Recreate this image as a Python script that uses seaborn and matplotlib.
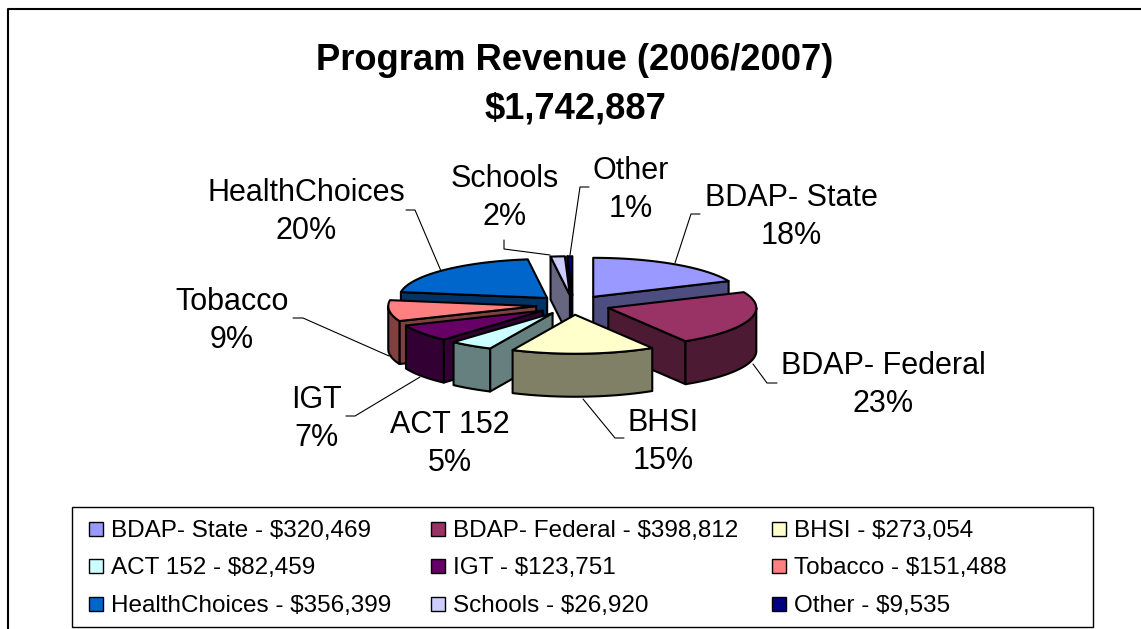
import numpy as np
import matplotlib
matplotlib.use('Agg')
import matplotlib.pyplot as plt
from matplotlib.patches import Rectangle
import seaborn as sns

# data
names = ['BDAP- State', 'BDAP- Federal', 'BHSI', 'ACT 152', 'IGT', 'Tobacco',
         'HealthChoices', 'Schools', 'Other']
amounts = [320469, 398812, 273054, 82459, 123751, 151488, 356399, 26920, 9535]
percent_labels = ['18%', '23%', '15%', '5%', '7%', '9%', '20%', '2%', '1%']
hex_colors = ['#9999FF', '#993366', '#FFFFCC', '#CCFFFF', '#660066', '#FF8080',
              '#0066CC', '#CCCCFF', '#000080']
title_lines = ['Program Revenue (2006/2007)', '$1,742,887']

sns.set_theme(style='white')
plt.rcParams['font.family'] = ['Liberation Sans', 'DejaVu Sans']
palette = sns.color_palette(hex_colors)
side_colors = [tuple(np.array(c) * 0.5) for c in palette]

fig = plt.figure(figsize=(11.41, 6.29), dpi=100)
ax = fig.add_axes([0, 0, 1, 1])
ax.set_xlim(0, 1141)
ax.set_ylim(629, 0)
ax.axis('off')

# pie geometry, in pixels
cx, cy = 573, 305
rx, ry = 148, 39
explode = 0.25
depth = 43
edge = dict(edgecolor='black', linewidth=1.5, joinstyle='round')

frac = np.array(amounts) / sum(amounts)
stops = np.concatenate([[0], np.cumsum(frac)]) * 360
mids = (stops[:-1] + stops[1:]) / 2


def rim(deg):
    # clockwise from 12 o'clock
    t = np.radians(deg)
    return np.sin(t) * rx, -np.cos(t) * ry


def apex(i):
    dx, dy = rim(mids[i])
    return cx + explode * dx, cy + explode * dy


def radial_face(i, deg):
    # cut face, only when it looks to the viewer
    ax0, ay0 = apex(i)
    dx, dy = rim(deg)
    mx, my = rim(mids[i])
    if abs(dx) < 1e-6 or my >= dy / dx * mx:
        return
    xs = [ax0, ax0 + dx, ax0 + dx, ax0]
    ys = [ay0, ay0 + dy, ay0 + dy + depth, ay0 + depth]
    ax.fill(xs, ys, facecolor=side_colors[i], **edge)


# back slices first
for i in np.argsort(-np.cos(np.radians(mids)), kind='stable'):
    a, b = stops[i], stops[i + 1]
    ax0, ay0 = apex(i)
    radial_face(i, a)
    radial_face(i, b)

    lo, hi = max(a, 90), min(b, 270)
    if lo < hi:
        dx, dy = rim(np.linspace(lo, hi, 60))
        xs = np.concatenate([ax0 + dx, (ax0 + dx)[::-1]])
        ys = np.concatenate([ay0 + dy, (ay0 + dy + depth)[::-1]])
        ax.fill(xs, ys, facecolor=side_colors[i], **edge)

    dx, dy = rim(np.linspace(a, b, 60))
    ax.fill(np.r_[ax0, ax0 + dx], np.r_[ay0, ay0 + dy], facecolor=palette[i], **edge)

# leader lines
leaders = [
    ([675, 691, 700], [263, 214, 214]),
    ([753, 767, 777], [364, 383, 383]),
    ([583, 615, 624], [399, 438, 438]),
    ([420, 355, 346], [377, 416, 416]),
    ([389, 303, 293], [356, 318, 318]),
    ([441, 415, 406], [271, 210, 210]),
    ([550, 504, 504], [255, 249, 240]),
    ([570, 580, 589], [255, 187, 187]),
]
for lx, ly in leaders:
    ax.plot(lx, ly, color='black', lw=0.8)

# slice labels
label_x = [791, 883, 663, 450, 317, 232, 306, 505, 631]
label_y = [217, 385, 442, 444, 419, 321, 212, 198, 190]
for i, name in enumerate(names):
    ax.text(label_x[i], label_y[i], name + '\n' + percent_labels[i], ha='center',
            va='center', fontsize=22, color='black', linespacing=1.37)

# title
ax.text(575, 60, title_lines[0], ha='center', va='center', fontsize=26.2,
        fontweight='bold', color='black')
ax.text(575, 109, title_lines[1], ha='center', va='center', fontsize=26.2,
        fontweight='bold', color='black')

# outer frame, runs off the right and bottom
ax.plot([7.5, 7.5, 1141], [629, 8.5, 8.5], color='black', lw=1.5)

# legend box
ax.add_patch(Rectangle((72, 507), 1021, 120, facecolor='white', edgecolor='black', lw=1))
col_x = [89, 431, 772]
row_y = [529, 566, 604]
for i, name in enumerate(names):
    x0 = col_x[i % 3]
    y0 = row_y[i // 3]
    ax.add_patch(Rectangle((x0, y0 - 7), 14, 14, facecolor=palette[i], edgecolor='black', lw=1))
    ax.text(x0 + 22, y0 + 2, f'{name} - ${amounts[i]:,}', ha='left', va='center',
            fontsize=17.5, color='black')

fig.savefig('out.png', dpi=100)
